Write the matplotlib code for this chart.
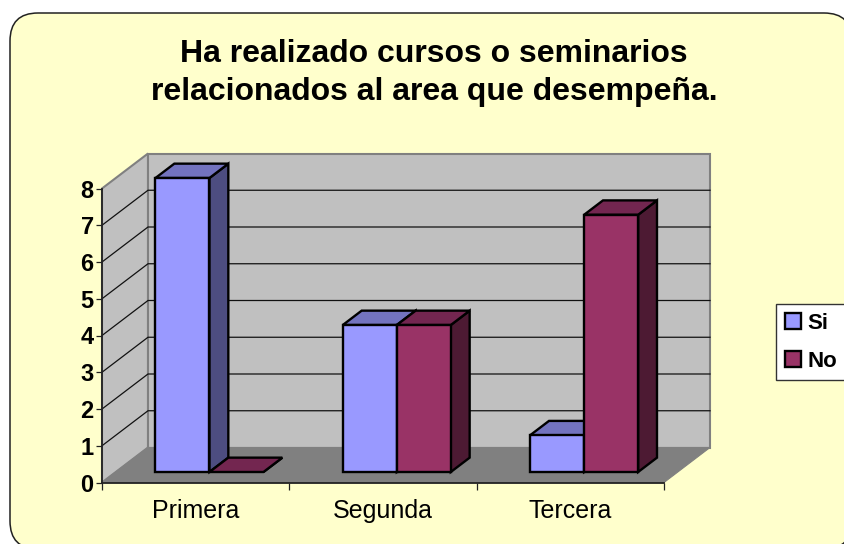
import matplotlib
matplotlib.use('Agg')
import matplotlib.pyplot as plt
from matplotlib.patches import FancyBboxPatch, Patch, Polygon

plt.rcParams['font.family'] = ['Liberation Sans', 'DejaVu Sans']

# data
categories = ['Primera', 'Segunda', 'Tercera']
si_values = [8, 4, 1]
no_values = [0, 4, 7]
y_ticks = [0, 1, 2, 3, 4, 5, 6, 7, 8]
title = 'Ha realizado cursos o seminarios\nrelacionados al area que desempeña.'

W, H = 845, 544
# depth of the fake 3d box, in axis units (46 px right, 35 px up)
DX = 46 / (562 / 3)
DY = 35 / (294 / 8)
BAR_W = 54 / (562 / 3)
D0, D1 = 0.30, 0.71

fig = plt.figure(figsize=(W / 100, H / 100), dpi=100, facecolor='white')

# rounded background
bg = fig.add_axes([0, 0, 1, 1])
bg.set_xlim(0, W)
bg.set_ylim(H, 0)
bg.axis('off')
bg.add_patch(FancyBboxPatch((10, 13), 842, 536, boxstyle='round,pad=0,rounding_size=28',
                            fc='#FFFFCC', ec='#222222', lw=1.1))

ax = fig.add_axes([102 / W, (H - 482.5) / H, 562 / W, 294 / H])
ax.set_xlim(0, 3)
ax.set_ylim(0, 8)
ax.patch.set_visible(False)


def p(x, y, d):
    # point at depth d (0 = front, 1 = back wall)
    return (x + DX * d, y + DY * d)


def poly(points, fc, ec, lw, z):
    ax.add_patch(Polygon(points, closed=True, fc=fc, ec=ec, lw=lw, zorder=z,
                         clip_on=False, joinstyle='miter'))


# walls and floor
poly([p(0, 0, 0), p(0, 8, 0), p(0, 8, 1), p(0, 0, 1)], '#C0C0C0', '#808080', 1.5, 1)
poly([p(0, 0, 1), p(0, 8, 1), p(3, 8, 1), p(3, 0, 1)], '#C0C0C0', '#808080', 1.5, 1)
for v in y_ticks[1:-1]:
    xs, ys = zip(p(0, v, 0), p(0, v, 1), p(3, v, 1))
    ax.plot(xs, ys, color='#111111', lw=0.9, zorder=2, clip_on=False)
poly([p(0, 0, 0), p(3, 0, 0), p(3, 0, 1), p(0, 0, 1)], '#808080', '#808080', 0.8, 3)


def bar3d(x, v, front, side, top, z):
    w = BAR_W
    poly([p(x + w, 0, D0), p(x + w, v, D0), p(x + w, v, D1), p(x + w, 0, D1)], side, 'black', 1.7, z)
    poly([p(x, v, D0), p(x + w, v, D0), p(x + w, v, D1), p(x, v, D1)], top, 'black', 1.7, z)
    if v > 0:
        poly([p(x, 0, D0), p(x + w, 0, D0), p(x + w, v, D0), p(x, v, D0)], front, 'black', 1.7, z + 0.1)


for i in range(len(categories)):
    start = i + 0.5 - BAR_W
    bar3d(start, si_values[i], '#9999FF', '#4D4D80', '#7373BF', 4 + i)
    bar3d(start + BAR_W, no_values[i], '#993366', '#4D1A33', '#732650', 4.5 + i)

# axes
for s in ['top', 'right']:
    ax.spines[s].set_visible(False)
for s in ['left', 'bottom']:
    ax.spines[s].set_color('#222222')
    ax.spines[s].set_linewidth(1.3)
    ax.spines[s].set_zorder(3.5)
ax.set_yticks(y_ticks)
ax.set_yticklabels([str(v) for v in y_ticks], fontsize=17, fontweight='bold')
ax.tick_params(axis='y', length=4, width=0.9, pad=2, color='#222222')
ax.set_xticks([0, 1, 2, 3])
ax.set_xticklabels([])
ax.set_xticks([0.5, 1.5, 2.5], minor=True)
ax.set_xticklabels(categories, minor=True, fontsize=18)
ax.tick_params(axis='x', which='major', length=5, width=0.9, color='#222222')
ax.tick_params(axis='x', which='minor', length=0, pad=12)

fig.text(434 / W, (H - 73) / H, title, ha='center', va='center', fontsize=23,
         fontweight='bold', linespacing=1.37, color='black')

handles = [Patch(fc='#9999FF', ec='black', lw=1.7, label='Si'),
           Patch(fc='#993366', ec='black', lw=1.7, label='No')]
fig.legend(handles=handles, loc='upper left', bbox_to_anchor=(776 / W, (H - 304) / H),
           prop={'size': 16, 'weight': 'bold'}, fancybox=False, framealpha=1,
           edgecolor='#333333', facecolor='white', borderaxespad=0, borderpad=0.4,
           handlelength=0.72, handleheight=0.72, handletextpad=0.3, labelspacing=0.75)

plt.savefig('out.png', dpi=100)
